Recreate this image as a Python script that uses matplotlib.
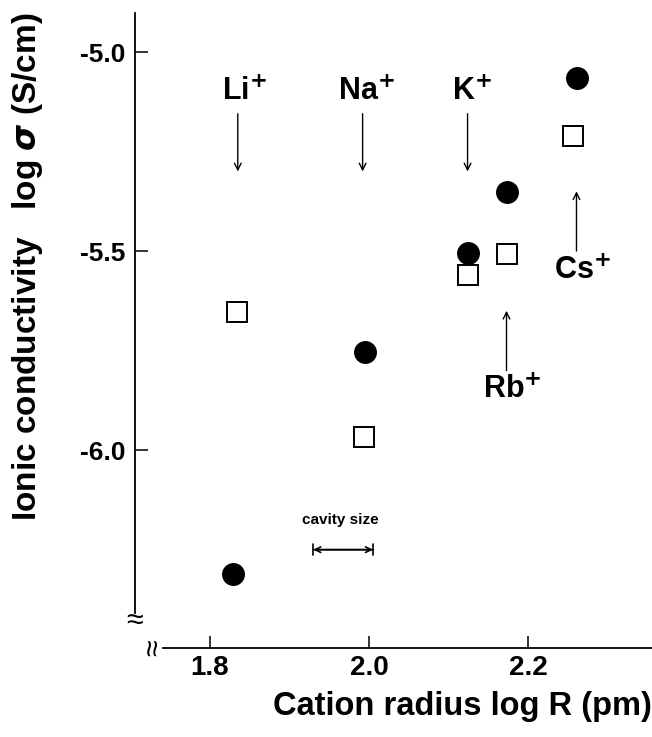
import matplotlib.pyplot as plt

plt.rcParams['font.family'] = ['Liberation Sans', 'DejaVu Sans']
plt.rcParams['font.weight'] = 'bold'
plt.rcParams['mathtext.fontset'] = 'dejavusans'

# data
ions = ["Li", "Na", "K", "Rb", "Cs"]
log_r_filled = [1.829, 1.995, 2.125, 2.174, 2.262]
log_s_filled = [-6.31, -5.754, -5.505, -5.352, -5.065]
log_r_open = [1.834, 1.994, 2.125, 2.174, 2.257]
log_s_open = [-5.653, -5.967, -5.560, -5.508, -5.211]

# ion label annotations: label position and arrow tail/tip heights
ion_label_x = [1.843, 1.997, 2.130, 2.180, 2.268]
ion_label_y = [-5.10, -5.10, -5.10, -5.85, -5.55]
arrow_x = [1.835, 1.992, 2.124, 2.173, 2.261]
arrow_tail_y = [-5.155, -5.155, -5.155, -5.80, -5.50]
arrow_tip_y = [-5.30, -5.30, -5.30, -5.65, -5.35]

cavity = [1.93, 2.005]
cavity_y = -6.25

fig = plt.figure(figsize=(6.52, 7.37), dpi=100)
ax = fig.add_axes([135 / 652, 1 - 648 / 737, 517 / 652, 635 / 737])
ax.set_xlim(1.7057, 2.356)
ax.set_ylim(-6.497, -4.902)

ax.plot(log_r_filled, log_s_filled, 'o', color='black', markersize=15.5, clip_on=False)
ax.plot(log_r_open, log_s_open, 's', markerfacecolor='white', markeredgecolor='black',
        markersize=14, markeredgewidth=1.4, clip_on=False)

for i, ion in enumerate(ions):
    ax.text(ion_label_x[i], ion_label_y[i], ion + "$^{+}$", ha='center', va='center',
            fontsize=22)
    ax.annotate("", xy=(arrow_x[i], arrow_tip_y[i]), xytext=(arrow_x[i], arrow_tail_y[i]),
                arrowprops=dict(arrowstyle='->', lw=1.0, color='black',
                                shrinkA=0, shrinkB=0, mutation_scale=12))

ax.annotate("", xy=(cavity[0], cavity_y), xytext=(cavity[1], cavity_y),
            arrowprops=dict(arrowstyle='|-|', lw=1.2, color='black',
                            shrinkA=0, shrinkB=0, mutation_scale=4))
ax.annotate("", xy=(cavity[0], cavity_y), xytext=(cavity[1], cavity_y),
            arrowprops=dict(arrowstyle='<->', lw=1.2, color='black',
                            shrinkA=0, shrinkB=0, mutation_scale=10))
ax.text(sum(cavity) / 2 - 0.003, cavity_y + 0.058, "cavity size", ha='center',
        va='bottom', fontsize=11)

# axes with breaks
for s in ['top', 'right']:
    ax.spines[s].set_visible(False)
ax.spines['left'].set_bounds(-6.41, -4.902)
ax.spines['bottom'].set_bounds(1.741, 2.356)
ax.spines['left'].set_linewidth(1.3)
ax.spines['bottom'].set_linewidth(1.3)

ax.set_xticks([1.8, 2.0, 2.2])
ax.set_xticklabels(["1.8", "2.0", "2.2"])
ax.set_yticks([-6.0, -5.5, -5.0])
ax.set_yticklabels(["-6.0", "-5.5", "-5.0"])
ax.tick_params(direction='in', length=9, width=1.1, pad=7)
ax.tick_params(axis='x', labelsize=20, pad=5)
ax.tick_params(axis='y', labelsize=19)

ax.text(1.7057, -6.43, "≈", ha='center', va='center', fontsize=22, fontweight='normal')
ax.text(1.73, -6.497, "≈", ha='center', va='center', fontsize=22, fontweight='normal',
        rotation=90)

fig.text(462 / 652, 1 - 706 / 737, "Cation radius log R (pm)", ha='center', va='center',
         fontsize=23.5)
fig.text(28 / 652, 1 - 267 / 737, "Ionic conductivity   log $\\sigma$ (S/cm)",
         ha='center', va='center', rotation=90, fontsize=24)

plt.savefig("out.png", dpi=100)
